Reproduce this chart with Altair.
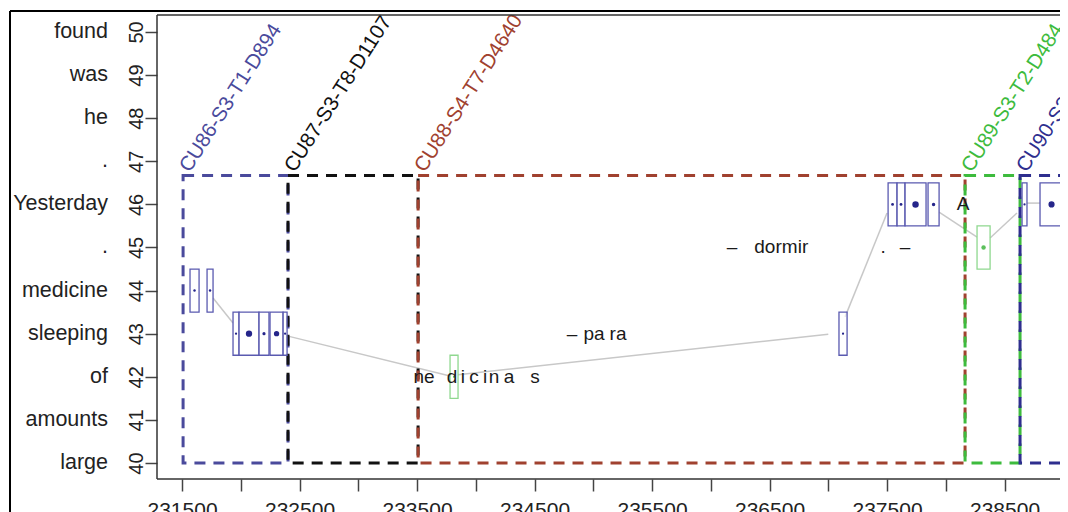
import altair as alt
import pandas as pd

# ---------------- data ----------------
y_words = ["large", "amounts", "of", "sleeping", "medicine", ".", "Yesterday", ".", "he", "was", "found"]
y_ticks = list(range(40, 51))
x_ticks = list(range(231500, 239001, 500))

cu_names = ["CU86-S3-T1-D894", "CU87-S3-T8-D1107", "CU88-S4-T7-D4640", "CU89-S3-T2-D484", "CU90-S3-T1-D512"]
cu_start = [231509, 232402, 233509, 238164, 238632]
cu_end = [232402, 233509, 238164, 238632, 239600]
cu_bottom = 40.0
cu_top = 46.67
cu_colors = ["#4a4a9c", "#111111", "#a0412f", "#3dbb3d", "#2e2e8e"]

box_start = [231568, 231713, 231934, 231985, 232155, 232249, 232360, 233781, 237091,
             237509, 237585, 237653, 237849, 238266, 238649, 238802]
box_end = [231645, 231764, 231985, 232155, 232240, 232360, 232394, 233849, 237160,
           237585, 237653, 237832, 237943, 238377, 238691, 238998]
box_y = [44, 44, 43, 43, 43, 43, 43, 42, 43, 46, 46, 46, 46, 45, 46, 46]
box_kind = ["en", "en", "en", "en", "en", "en", "en", "es", "en",
            "en", "en", "en", "en", "es", "en", "en"]
dot_size = [6, 6, 5, 40, 10, 28, 5, 5, 5, 8, 8, 42, 12, 20, 5, 38]

seg_x1 = [231764, 232394, 233849, 237143, 237943, 238377, 238691]
seg_y1 = [43.83, 42.95, 42.05, 43.39, 45.82, 45.22, 46.03]
seg_x2 = [231934, 233781, 237000, 237500, 238266, 238606, 238802]
seg_y2 = [43.25, 42.02, 42.99, 45.80, 45.24, 45.80, 46.03]

tok_text = ["ne", "d", "i", "c", "i", "n", "a", "s",
            "–", "pa", "ra",
            "–", "do", "rmir",
            ".", "–", "A"]
tok_x = [233560, 233798, 233891, 233985, 234079, 234155, 234283, 234504,
         234819, 235006, 235211,
         236181, 236460, 236690,
         237466, 237653, 238147]
tok_y = [42] * 8 + [43] * 3 + [45] * 3 + [45, 45, 46]

# ---------------- layout ----------------
W, H = 903, 464
FONT = "Liberation Sans"

xscale = alt.Scale(domain=[231287, 238972], nice=False, zero=False)
yscale = alt.Scale(domain=[39.629, 50.394], nice=False, zero=False)

cu_df = pd.DataFrame({"name": cu_names, "start": cu_start, "end": cu_end,
                      "bottom": cu_bottom, "top": cu_top})
box_df = pd.DataFrame({"start": box_start, "end": box_end, "y": box_y, "kind": box_kind,
                       "size": dot_size})
box_df["lo"] = box_df["y"] - 0.5
box_df["hi"] = box_df["y"] + 0.5
box_df["mid"] = (box_df["start"] + box_df["end"]) / 2
seg_df = pd.DataFrame({"x1": seg_x1, "y1": seg_y1, "x2": seg_x2, "y2": seg_y2})
tok_df = pd.DataFrame({"t": tok_text, "x": tok_x, "y": tok_y})
word_df = pd.DataFrame({"w": y_words, "y": y_ticks})

cu_color = alt.Scale(domain=cu_names, range=cu_colors)
kind_stroke = alt.Scale(domain=["en", "es"], range=["#5a5ab0", "#8fd88f"])
kind_dot = alt.Scale(domain=["en", "es"], range=["#25258a", "#5cc05c"])

x_axis = alt.Axis(values=x_ticks,
                  labelExpr="(datum.value - 231500) % 1000 == 0 ? format(datum.value, 'd') : ''",
                  grid=False, domain=False, tickSize=12, tickColor="#444", tickWidth=1.5,
                  labelFontSize=21, labelPadding=8, labelColor="#222", labelFont=FONT,
                  title=None, labelFlush=False, labelOverlap=False)
y_axis = alt.Axis(values=y_ticks, format="d", grid=False, domain=False, tickSize=12,
                  tickColor="#444", tickWidth=1.5, labelAngle=270, labelAlign="center",
                  labelBaseline="alphabetic", labelPadding=3, labelFontSize=20,
                  labelColor="#222", labelFont=FONT, title=None)


def X(f):
    return alt.X(f, scale=xscale, axis=x_axis)


def Y(f):
    return alt.Y(f, scale=yscale, axis=y_axis)


segs = alt.Chart(seg_df).mark_rule(color="#c8c8c8", strokeWidth=1.5).encode(
    x=X("x1:Q"), y=Y("y1:Q"), x2="x2:Q", y2="y2:Q")

regions = alt.Chart(cu_df).mark_rect(fillOpacity=0, strokeWidth=3, strokeDash=[11, 8],
                                     clip=True).encode(
    x=X("start:Q"), x2="end:Q", y=Y("bottom:Q"), y2="top:Q",
    stroke=alt.Stroke("name:N", scale=cu_color, legend=None))

cu_labels = alt.Chart(cu_df).mark_text(angle=302.6, align="left", baseline="bottom",
                                       fontSize=20.5, font=FONT).encode(
    x=X("start:Q"), y=Y("top:Q"), xOffset=alt.value(10),
    text="name:N", color=alt.Color("name:N", scale=cu_color, legend=None))

boxes = alt.Chart(box_df).mark_rect(fill="white", fillOpacity=0.6, strokeWidth=1.3).encode(
    x=X("start:Q"), x2="end:Q", y=Y("lo:Q"), y2="hi:Q",
    stroke=alt.Stroke("kind:N", scale=kind_stroke, legend=None))

dots = alt.Chart(box_df).mark_circle(opacity=1).encode(
    x=X("mid:Q"), y=Y("y:Q"),
    size=alt.Size("size:Q", scale=None, legend=None),
    color=alt.Color("kind:N", scale=kind_dot, legend=None))

tokens = alt.Chart(tok_df).mark_text(fontSize=19, font=FONT, color="#1a1a1a",
                                     align="center", baseline="middle").encode(
    x=X("x:Q"), y=Y("y:Q"), text="t:N")

words = alt.Chart(word_df).mark_text(fontSize=21.5, font=FONT, color="#222",
                                     align="right", baseline="middle").encode(
    x=alt.value(-49), y=Y("y:Q"), text="w:N")

one = cu_df.head(1)
frame_l = alt.Chart(one).mark_rule(color="#333", strokeWidth=1.5).encode(
    x=alt.value(0), y=alt.value(0), y2=alt.value(H))
frame_t = alt.Chart(one).mark_rule(color="#333", strokeWidth=1.5).encode(
    x=alt.value(0), x2=alt.value(W + 5), y=alt.value(0))
frame_b = alt.Chart(one).mark_rule(color="#333", strokeWidth=1.5).encode(
    x=alt.value(0), x2=alt.value(W + 5), y=alt.value(H))
outer_l = alt.Chart(one).mark_rule(color="#000", strokeWidth=2).encode(
    x=alt.value(-147), y=alt.value(-4), y2=alt.value(H + 60))
outer_t = alt.Chart(one).mark_rule(color="#000", strokeWidth=2).encode(
    x=alt.value(-147), x2=alt.value(W + 5), y=alt.value(-4))

chart = alt.layer(
    segs, regions, boxes, dots, cu_labels, tokens, words,
    frame_l, frame_t, frame_b, outer_l, outer_t
).resolve_scale(
    color="independent", stroke="independent"
).properties(
    width=W, height=H,
    padding={"left": 149, "top": 7, "right": 0, "bottom": 33},
    autosize=alt.AutoSizeParams(type="none"),
    background="white",
).configure_view(stroke=None)

chart.save("out.html", embed_options={"renderer": "svg", "actions": False})
